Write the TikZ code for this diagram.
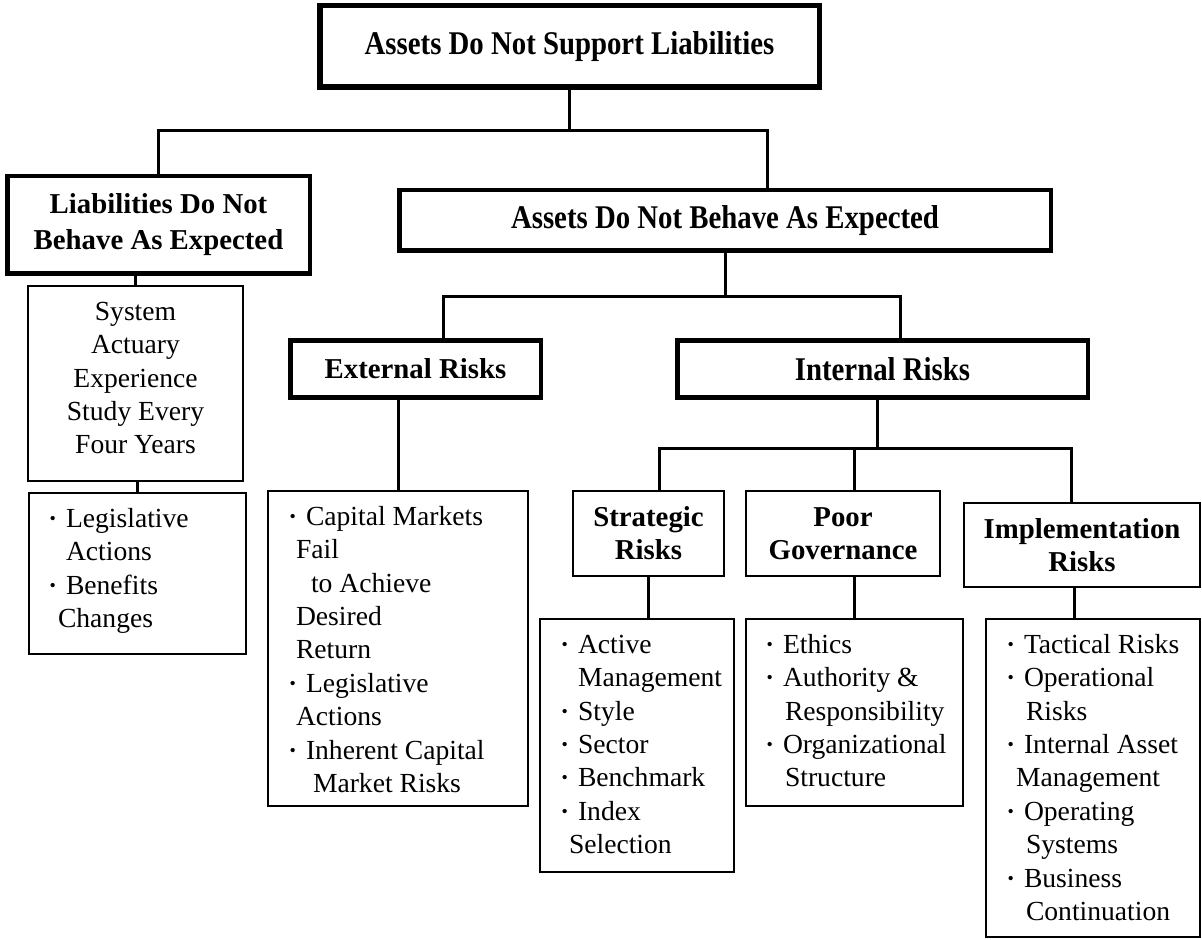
\documentclass[tikz,border=0pt]{standalone}
\usepackage{fontspec}
\setmainfont{Liberation Serif}
\usepackage{tikz}
\usetikzlibrary{positioning}
\tikzset{
    headnode/.style = {rectangle, line width=2.25pt, draw=black, align=center, fill=white, font=\bfseries\fontsize{14.4pt}{18pt}\selectfont, text=black, inner sep=0pt},
    topnode/.style = {headnode, line width=2.75pt},
    subnode/.style = {rectangle, line width=1pt, draw=black, align=center, fill=white, font=\bfseries\fontsize{14.4pt}{16.5pt}\selectfont, text=black, inner sep=0pt},
    listnode/.style = {rectangle, line width=1pt, draw=black, fill=white, inner sep=0pt, text=black},
    edgen/.style = {-, line width=1.5pt, black},
    every picture/.style={font issue=\fontsize{13.8pt}{16.7pt}},
    font issue/.style={execute at begin picture={#1\selectfont}}
}
\newcommand{\blt}{\llap{\raisebox{.25ex}{\scalebox{.65}{•}}\hspace{5pt}}}
\newcommand{\itemline}[2]{\hbox to \hsize{\hspace*{#1}\strut#2\hfil}}
\newcommand{\boxtext}[3]{\parbox[c][#2][t]{#1}{\vspace*{5.5pt}#3}}
\newcommand{\tall}[1]{\scalebox{1}[1.15]{#1}}

\begin{document}
\begin{tikzpicture}[x=0.5pt, y=-0.5pt]
\useasboundingbox (0,0) rectangle (1202,940);

% headings
\node[topnode, minimum width=249.75pt, minimum height=40.75pt] (top) at (569.5,46.5) {\tall{Assets Do Not Support Liabilities}};
\node[headnode, minimum width=151.25pt, minimum height=48.75pt] (liab) at (158.5,225) {Liabilities Do Not\\Behave As Expected};
\node[headnode, minimum width=325.75pt, minimum height=30.25pt] (assets) at (725,220.5) {\tall{Assets Do Not Behave As Expected}};
\node[headnode, minimum width=125.25pt, minimum height=28.25pt] (ext) at (415.5,369) {External Risks};
\node[headnode, minimum width=205.25pt, minimum height=28.25pt] (int) at (882.5,369) {\tall{Internal Risks}};
\node[subnode, minimum width=75.5pt, minimum height=42.5pt] (strat) at (648.5,533.5) {Strategic\\Risks};
\node[subnode, minimum width=97pt, minimum height=42.5pt] (poor) at (843,533.5) {Poor\\Governance};
\node[subnode, minimum width=118pt, minimum height=42pt] (impl) at (1082,545) {Implementation\\Risks};

% lists
\node[listnode] (sys) at (135.5,383.5) {\boxtext{107.5pt}{97.5pt}{\centering
  \strut System\par\strut Actuary\par\strut Experience\par\strut Study Every\par\strut Four Years\par}};
\node[listnode] (legis) at (137.5,573.5) {\boxtext{108.5pt}{80.5pt}{%
  \itemline{18.5pt}{\blt Legislative}
  \itemline{18.5pt}{Actions}
  \itemline{18.5pt}{\blt Benefits}
  \itemline{14.5pt}{Changes}}};
\node[listnode] (extlist) at (398,648.5) {\boxtext{130pt}{157.5pt}{%
  \itemline{19pt}{\blt Capital Markets}
  \itemline{14pt}{Fail}
  \itemline{21.5pt}{to Achieve}
  \itemline{14pt}{Desired}
  \itemline{14pt}{Return}
  \itemline{19pt}{\blt Legislative}
  \itemline{14pt}{Actions}
  \itemline{19pt}{\blt Inherent Capital}
  \itemline{22.5pt}{Market Risks}}};
\node[listnode] (stratlist) at (637,745.5) {\boxtext{97pt}{126.5pt}{%
  \itemline{19pt}{\blt Active}
  \itemline{19pt}{Management}
  \itemline{19pt}{\blt Style}
  \itemline{19pt}{\blt Sector}
  \itemline{19pt}{\blt Benchmark}
  \itemline{19pt}{\blt Index}
  \itemline{14.5pt}{Selection}}};
\node[listnode] (poorlist) at (854.5,712.5) {\boxtext{108.5pt}{93.5pt}{%
  \itemline{18.5pt}{\blt Ethics}
  \itemline{18.5pt}{\blt Authority \&}
  \itemline{19.5pt}{Responsibility}
  \itemline{18.5pt}{\blt Organizational}
  \itemline{19.5pt}{Structure}}};
\node[listnode] (impllist) at (1093,778) {\boxtext{107pt}{159pt}{%
  \itemline{19pt}{\blt Tactical Risks}
  \itemline{19pt}{\blt Operational}
  \itemline{20pt}{Risks}
  \itemline{19pt}{\blt Internal Asset}
  \itemline{15pt}{Management}
  \itemline{19pt}{\blt Operating}
  \itemline{20pt}{Systems}
  \itemline{19pt}{\blt Business}
  \itemline{20pt}{Continuation}}};

% junctions
\coordinate (j1) at (767,131);
\coordinate (j2l) at (443,297);
\coordinate (j2r) at (900,297);
\coordinate (j3l) at (659,448);
\coordinate (j3r) at (1071,448);
\coordinate (j3m) at (877,448);
\coordinate (j3p) at (854,448);
\coordinate (j4) at (1074,600);

\draw[edgen] (top.south) -- (top.south |- j1);
\draw[edgen] (liab.north) |- (j1) -- (j1 |- assets.north);
\draw[edgen] (assets.south) -- (assets.south |- j2l);
\draw[edgen] (j2l |- ext.north) |- (j2r) -- (j2r |- int.north);
\draw[edgen] (j3m |- int.south) -- (j3m);
\draw[edgen] (j3l |- strat.north) |- (j3r) -- (j3r |- impl.north);
\draw[edgen] (j3p) -- (j3p |- poor.north);
\draw[edgen] (sys.north) -- (sys.north |- liab.south);
\draw[edgen] (legis.north) -- (legis.north |- sys.south);
\draw[edgen] (extlist.north) -- (extlist.north |- ext.south);
\draw[edgen] (strat.south) -- (strat.south |- stratlist.north);
\draw[edgen] (poorlist.north) -- (poorlist.north |- poor.south);
\draw[edgen] (j4 |- impl.south) -- (j4 |- impllist.north);
\end{tikzpicture}
\end{document}
